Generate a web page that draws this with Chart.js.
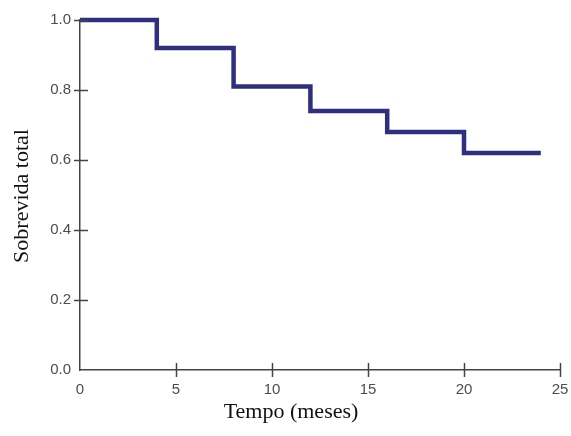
<!DOCTYPE html>
<html>
<head>
<meta charset="utf-8">
<script src="https://cdn.jsdelivr.net/npm/chart.js@4/dist/chart.umd.min.js"></script>
<style>
  html, body { margin: 0; padding: 0; background: #fff; }
  #wrap { width: 571px; height: 436px; }
</style>
</head>
<body>
<div id="wrap"><canvas id="kmChart" width="571" height="436"></canvas></div>
<script>
// Kaplan-Meier curve
const months   = [0, 4, 8, 12, 16, 20, 24];
const survival = [1.0, 0.92, 0.81, 0.74, 0.68, 0.62, 0.62];
const xTicks   = [0, 5, 10, 15, 20, 25];
const yTicks   = [0, 0.2, 0.4, 0.6, 0.8, 1.0];
const xTitle = 'Tempo (meses)';
const yTitle = 'Sobrevida total';

const points = months.map((m, i) => ({ x: m, y: survival[i] }));

// ticks that cross the axis lines + axis titles
const axisExtras = {
  id: 'axisExtras',
  afterDraw(chart) {
    const ctx = chart.ctx;
    const xs = chart.scales.x, ys = chart.scales.y;
    const area = chart.chartArea;
    ctx.save();
    ctx.strokeStyle = '#444';
    ctx.lineWidth = 1.5;
    xTicks.forEach(v => {
      if (v === 0) return;
      const px = Math.round(xs.getPixelForValue(v)) + 0.5;
      ctx.beginPath();
      ctx.moveTo(px, area.bottom - 7);
      ctx.lineTo(px, area.bottom + 7);
      ctx.stroke();
    });
    yTicks.forEach(v => {
      if (v === 0) return;
      const py = Math.round(ys.getPixelForValue(v)) + 0.5;
      ctx.beginPath();
      ctx.moveTo(area.left - 6, py);
      ctx.lineTo(area.left + 8, py);
      ctx.stroke();
    });

    ctx.fillStyle = '#111';
    ctx.font = '22px "Liberation Serif", "Times New Roman", serif';
    ctx.textAlign = 'center';
    ctx.textBaseline = 'middle';
    ctx.fillText(xTitle, 291, 412);
    ctx.translate(22, 196);
    ctx.rotate(-Math.PI / 2);
    ctx.fillText(yTitle, 0, 0);
    ctx.restore();
  }
};

const chart = new Chart(document.getElementById('kmChart').getContext('2d'), {
  type: 'line',
  data: {
    datasets: [{
      data: points,
      stepped: true,
      borderColor: '#2e2f7f',
      borderWidth: 4.5,
      borderJoinStyle: 'miter',
      borderCapStyle: 'butt',
      pointRadius: 0,
      fill: false,
      clip: false
    }]
  },
  options: {
    responsive: false,
    animation: false,
    layout: { padding: { top: 20, right: 0, left: 0, bottom: 0 } },
    plugins: { legend: { display: false }, tooltip: { enabled: false } },
    scales: {
      x: {
        type: 'linear',
        min: 0, max: 25,
        afterBuildTicks: s => { s.ticks = xTicks.map(v => ({ value: v })); },
        afterFit: s => { s.height = 66; s.paddingRight = 11; },
        grid: { display: false, drawTicks: false },
        border: { display: true, color: '#444', width: 1.5 },
        ticks: {
          padding: 11,
          color: '#4d4d4d',
          font: { family: '"Liberation Sans", Arial, sans-serif', size: 15 },
          maxRotation: 0
        }
      },
      y: {
        min: 0, max: 1,
        afterBuildTicks: s => { s.ticks = yTicks.map(v => ({ value: v })); },
        afterFit: s => { s.width = 80; },
        grid: { display: false, drawTicks: false },
        border: { display: true, color: '#444', width: 1.5 },
        ticks: {
          padding: 9,
          color: '#4d4d4d',
          font: { family: '"Liberation Sans", Arial, sans-serif', size: 15 },
          callback: v => v.toFixed(1)
        }
      }
    }
  },
  plugins: [axisExtras]
});
</script>
</body>
</html>
